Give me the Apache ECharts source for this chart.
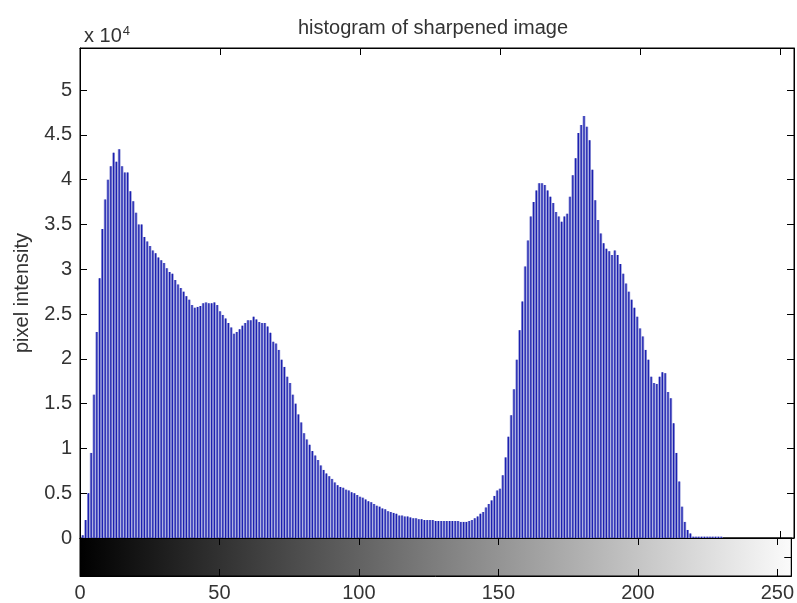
<!DOCTYPE html>
<html>
<head>
<meta charset="utf-8">
<title>histogram of sharpened image</title>
<script src="https://cdn.jsdelivr.net/npm/echarts@6/dist/echarts.min.js"></script>
<style>
  html, body { margin: 0; padding: 0; background: #fff; }
  #myChart { width: 797px; height: 603px; }
</style>
</head>
<body>
<div id="myChart"></div>
<script>
// counts per gray level, in units of 10^4
const countsE4 = [
  0, 0.03, 0.2, 0.5, 0.95, 1.6, 2.3, 2.9, 3.45, 3.78,          // 0-9
  4.0, 4.15, 4.3, 4.2, 4.34, 4.15, 4.08, 4.08, 3.87, 3.76,     // 10-19
  3.63, 3.5, 3.5, 3.36, 3.31, 3.26, 3.21, 3.18, 3.13, 3.1,     // 20-29
  3.07, 3.01, 2.97, 2.95, 2.88, 2.83, 2.79, 2.75, 2.7, 2.66,   // 30-39
  2.6, 2.57, 2.58, 2.59, 2.62, 2.63, 2.62, 2.62, 2.63, 2.6,    // 40-49
  2.53, 2.49, 2.45, 2.4, 2.35, 2.28, 2.3, 2.33, 2.37, 2.4,     // 50-59
  2.43, 2.43, 2.47, 2.44, 2.41, 2.4, 2.4, 2.36, 2.29, 2.19,    // 60-69
  2.17, 2.1, 1.99, 1.91, 1.8, 1.73, 1.6, 1.5, 1.38, 1.29,      // 70-79
  1.17, 1.1, 1.04, 0.97, 0.92, 0.87, 0.81, 0.76, 0.72, 0.69,   // 80-89
  0.66, 0.62, 0.59, 0.57, 0.56, 0.54, 0.53, 0.51, 0.5, 0.48,   // 90-99
  0.46, 0.45, 0.43, 0.41, 0.4, 0.38, 0.36, 0.35, 0.33, 0.32,   // 100-109
  0.3, 0.29, 0.28, 0.27, 0.25, 0.25, 0.24, 0.24, 0.23, 0.22,   // 110-119
  0.22, 0.21, 0.21, 0.2, 0.2, 0.2, 0.2, 0.19, 0.19, 0.19,      // 120-129
  0.19, 0.19, 0.19, 0.19, 0.19, 0.19, 0.18, 0.18, 0.18, 0.19,  // 130-139
  0.2, 0.22, 0.24, 0.27, 0.29, 0.34, 0.38, 0.42, 0.47, 0.53,   // 140-149
  0.55, 0.7, 0.9, 1.13, 1.37, 1.66, 1.99, 2.32, 2.64, 3.03,    // 150-159
  3.32, 3.59, 3.75, 3.88, 3.96, 3.96, 3.94, 3.88, 3.81, 3.74,  // 160-169
  3.64, 3.59, 3.53, 3.59, 3.62, 3.81, 4.05, 4.24, 4.52, 4.61,  // 170-179
  4.71, 4.59, 4.44, 4.11, 3.77, 3.55, 3.4, 3.29, 3.23, 3.2,    // 180-189
  3.16, 3.21, 3.16, 3.06, 2.95, 2.84, 2.75, 2.66, 2.57, 2.47,  // 190-199
  2.34, 2.25, 2.1, 1.99, 1.8, 1.73, 1.72, 1.8, 1.85, 1.84,     // 200-209
  1.63, 1.56, 1.28, 0.95, 0.63, 0.35, 0.18, 0.09, 0.05, 0.015, // 210-219
  0.015, 0.015, 0.015, 0.015, 0.015, 0.015, 0.015, 0.015, 0.015, 0.015, // 220-229
  0, 0, 0, 0, 0, 0, 0, 0, 0, 0,                                // 230-239
  0, 0, 0, 0, 0, 0, 0, 0, 0, 0,                                // 240-249
  0, 0, 0, 0, 0, 0                                             // 250-255
];
const xTicks = [0, 50, 100, 150, 200, 250];
const yTicks = [0, 0.5, 1, 1.5, 2, 2.5, 3, 3.5, 4, 4.5, 5];

const FONT = "'Liberation Sans', Arial, sans-serif";
const xMax = 255;
const yMax = 5.47;

// bins: [gray level, count]
const barData = countsE4.map((v, i) => [i, v]);

function onTick(list) {
  return function (v) {
    for (let t of list) {
      if (Math.abs(v - t) < 1e-6) return String(t);
    }
    return "";
  };
}

const inTick = { show: true, inside: true, length: 7, lineStyle: { color: "#000" } };
const blackLine = { show: true, onZero: false, lineStyle: { color: "#000", width: 1 } };

let myChart = echarts.init(document.getElementById("myChart"));
myChart.setOption({
  animation: false,
  backgroundColor: "#fff",
  title: [
    {
      text: "histogram of sharpened image",
      left: 428,
      top: 13,
      textAlign: "center",
      textStyle: { fontFamily: FONT, fontSize: 20, fontWeight: "normal", color: "#333" }
    },
    {
      text: "x 10{s|4}",
      left: 79,
      top: 20,
      textStyle: {
        fontFamily: FONT, fontSize: 20, fontWeight: "normal", color: "#333",
        rich: { s: { fontFamily: FONT, fontSize: 13, color: "#333", verticalAlign: "top", padding: [0, 0, 10, 1] } }
      }
    }
  ],
  grid: [
    { left: 80, right: 3, top: 48, height: 490, show: true, borderColor: "#000", borderWidth: 1, backgroundColor: "#fff" },
    {
      left: 80, right: 3, top: 538, height: 41, show: true, borderColor: "#000", borderWidth: 1,
      backgroundColor: {
        type: "linear", x: 0, y: 0, x2: 1, y2: 0,
        colorStops: [{ offset: 0, color: "#000" }, { offset: 1, color: "#fbfbfb" }]
      }
    }
  ],
  xAxis: [
    { type: "value", gridIndex: 0, min: 0, max: xMax, interval: 50, position: "bottom",
      axisLine: blackLine, axisTick: inTick, axisLabel: { show: false }, splitLine: { show: false } },
    { type: "value", gridIndex: 0, min: 0, max: xMax, interval: 50, position: "top",
      axisLine: blackLine, axisTick: inTick, axisLabel: { show: false }, splitLine: { show: false } },
    { type: "value", gridIndex: 0, min: 0, max: xMax, show: false },
    { type: "value", gridIndex: 1, min: 0, max: xMax, interval: 50, position: "bottom",
      axisLine: blackLine, axisTick: inTick, splitLine: { show: false },
      axisLabel: { margin: 7, fontFamily: FONT, fontSize: 20, color: "#333", formatter: onTick(xTicks) } },
    { type: "value", gridIndex: 1, min: 0, max: xMax, interval: 50, position: "top",
      axisLine: blackLine, axisTick: inTick, axisLabel: { show: false }, splitLine: { show: false } }
  ],
  yAxis: [
    { type: "value", gridIndex: 0, min: 0, max: yMax, interval: 0.5, position: "left",
      name: "pixel intensity", nameLocation: "middle", nameGap: 48, nameRotate: 90,
      nameTextStyle: { fontFamily: FONT, fontSize: 20, color: "#333" },
      axisLine: blackLine, axisTick: inTick, splitLine: { show: false },
      axisLabel: { margin: 8, fontFamily: FONT, fontSize: 20, color: "#333", formatter: onTick(yTicks) } },
    { type: "value", gridIndex: 0, min: 0, max: yMax, interval: 0.5, position: "right",
      axisLine: blackLine, axisTick: inTick, axisLabel: { show: false }, splitLine: { show: false } },
    { type: "value", gridIndex: 1, min: 0, max: 1, interval: 0.5, position: "right",
      axisLine: blackLine, axisTick: inTick, axisLabel: { show: false }, splitLine: { show: false } }
  ],
  series: [
    {
      name: "counts",
      type: "bar",
      xAxisIndex: 0,
      yAxisIndex: 0,
      barWidth: 2.8,
      itemStyle: { color: "#969ad9" },
      data: barData
    },
    {
      name: "stems",
      type: "bar",
      xAxisIndex: 2,
      yAxisIndex: 0,
      barWidth: 1.2,
      itemStyle: { color: "#1c20b0" },
      data: barData
    }
  ]
});
</script>
</body>
</html>
